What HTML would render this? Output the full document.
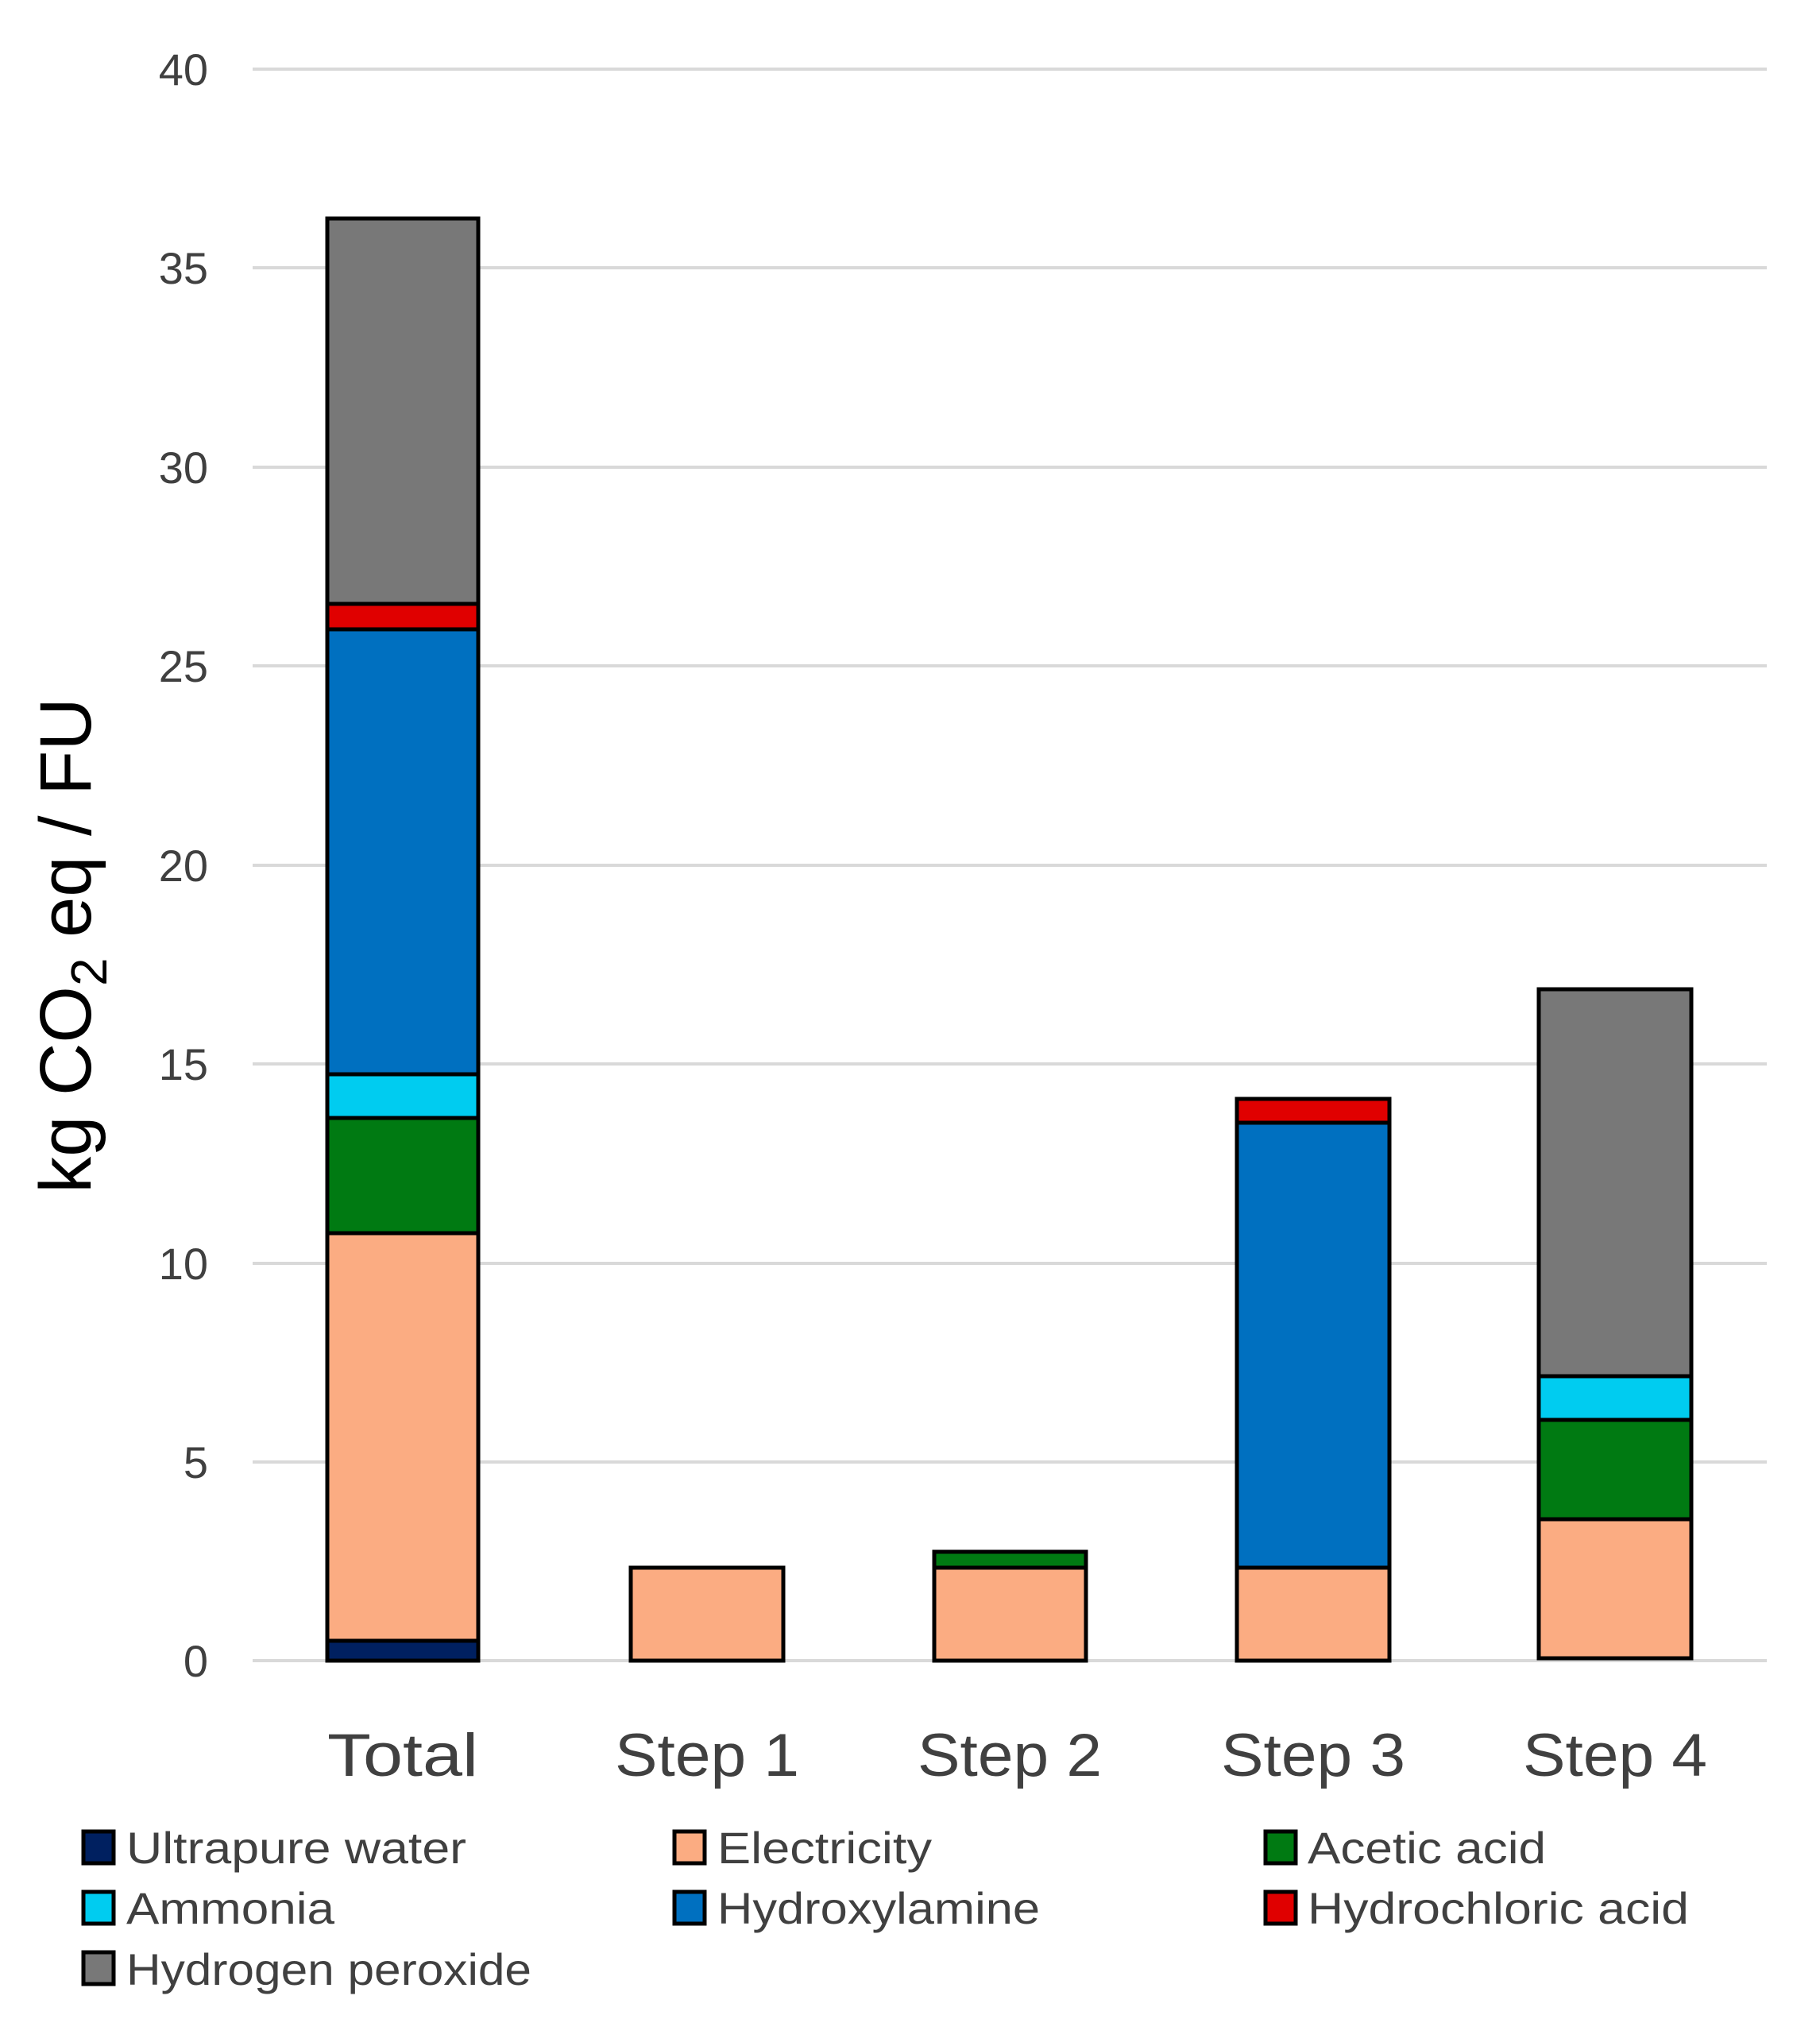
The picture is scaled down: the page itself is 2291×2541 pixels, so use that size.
<!DOCTYPE html>
<html><head><meta charset="utf-8"><style>html,body{margin:0;padding:0;background:#fff}svg{display:block}</style></head>
<body>
<svg width="2291" height="2541" viewBox="0 0 2291 2541" xmlns="http://www.w3.org/2000/svg" font-family="Liberation Sans, sans-serif">
<g stroke="#d9d9d9" stroke-width="4">
<line x1="318" y1="87" x2="2224" y2="87"/>
<line x1="318" y1="337" x2="2224" y2="337"/>
<line x1="318" y1="588" x2="2224" y2="588"/>
<line x1="318" y1="838" x2="2224" y2="838"/>
<line x1="318" y1="1089" x2="2224" y2="1089"/>
<line x1="318" y1="1339" x2="2224" y2="1339"/>
<line x1="318" y1="1590" x2="2224" y2="1590"/>
<line x1="318" y1="1840" x2="2224" y2="1840"/>
<line x1="318" y1="2090" x2="2224" y2="2090"/>
</g>
<g fill="#404040" font-size="56" text-anchor="end">
<text x="262" y="107">40</text><text x="262" y="357">35</text><text x="262" y="608">30</text>
<text x="262" y="858">25</text><text x="262" y="1109">20</text><text x="262" y="1359">15</text>
<text x="262" y="1610">10</text><text x="262" y="1860">5</text><text x="262" y="2110">0</text>
</g>
<g stroke="#000" stroke-width="5">
<rect x="412" y="2065" width="190" height="25" fill="#002060"/>
<rect x="412" y="1552" width="190" height="513" fill="#fbac82"/>
<rect x="412" y="1407" width="190" height="145" fill="#007a12"/>
<rect x="412" y="1352" width="190" height="55" fill="#00ccf0"/>
<rect x="412" y="792" width="190" height="560" fill="#0070c0"/>
<rect x="412" y="760" width="190" height="32" fill="#e00000"/>
<rect x="412" y="275" width="190" height="485" fill="#787878"/>
<rect x="794" y="1973" width="192" height="117" fill="#fbac82"/>
<rect x="1176" y="1973" width="191" height="117" fill="#fbac82"/>
<rect x="1176" y="1953" width="191" height="20" fill="#007a12"/>
<rect x="1557" y="1973" width="192" height="117" fill="#fbac82"/>
<rect x="1557" y="1413" width="192" height="560" fill="#0070c0"/>
<rect x="1557" y="1383" width="192" height="30" fill="#e00000"/>
<rect x="1937" y="1912" width="192" height="175" fill="#fbac82"/>
<rect x="1937" y="1787" width="192" height="125" fill="#007a12"/>
<rect x="1937" y="1732" width="192" height="55" fill="#00ccf0"/>
<rect x="1937" y="1245" width="192" height="487" fill="#787878"/>
</g>
<g fill="#404040" font-size="76" text-anchor="middle">
<text x="507" y="2235" textLength="190" lengthAdjust="spacingAndGlyphs">Total</text>
<text x="890" y="2235" textLength="232" lengthAdjust="spacingAndGlyphs">Step 1</text>
<text x="1271" y="2235" textLength="232" lengthAdjust="spacingAndGlyphs">Step 2</text>
<text x="1653" y="2235" textLength="232" lengthAdjust="spacingAndGlyphs">Step 3</text>
<text x="2033" y="2235" textLength="232" lengthAdjust="spacingAndGlyphs">Step 4</text>
</g>
<text transform="translate(114,1190) rotate(-90)" font-size="92" fill="#000" text-anchor="middle">kg CO<tspan font-size="64" dy="20">2</tspan><tspan dy="-20"> eq / FU</tspan></text>
<g stroke="#000" stroke-width="5">
<rect x="105" y="2305" width="38" height="40" fill="#002060"/>
<rect x="105" y="2381" width="38" height="40" fill="#00ccf0"/>
<rect x="105" y="2457" width="38" height="40" fill="#787878"/>
<rect x="849" y="2305" width="38" height="40" fill="#fbac82"/>
<rect x="849" y="2381" width="38" height="40" fill="#0070c0"/>
<rect x="1593" y="2305" width="38" height="40" fill="#007a12"/>
<rect x="1593" y="2381" width="38" height="40" fill="#e00000"/>
</g>
<g fill="#404040" font-size="56">
<text x="159" y="2345" textLength="428" lengthAdjust="spacingAndGlyphs">Ultrapure water</text>
<text x="159" y="2421" textLength="262" lengthAdjust="spacingAndGlyphs">Ammonia</text>
<text x="159" y="2498" textLength="510" lengthAdjust="spacingAndGlyphs">Hydrogen peroxide</text>
<text x="903" y="2345" textLength="270" lengthAdjust="spacingAndGlyphs">Electricity</text>
<text x="903" y="2421" textLength="406" lengthAdjust="spacingAndGlyphs">Hydroxylamine</text>
<text x="1646" y="2345" textLength="300" lengthAdjust="spacingAndGlyphs">Acetic acid</text>
<text x="1646" y="2421" textLength="480" lengthAdjust="spacingAndGlyphs">Hydrochloric acid</text>
</g>
</svg>
</body></html>
